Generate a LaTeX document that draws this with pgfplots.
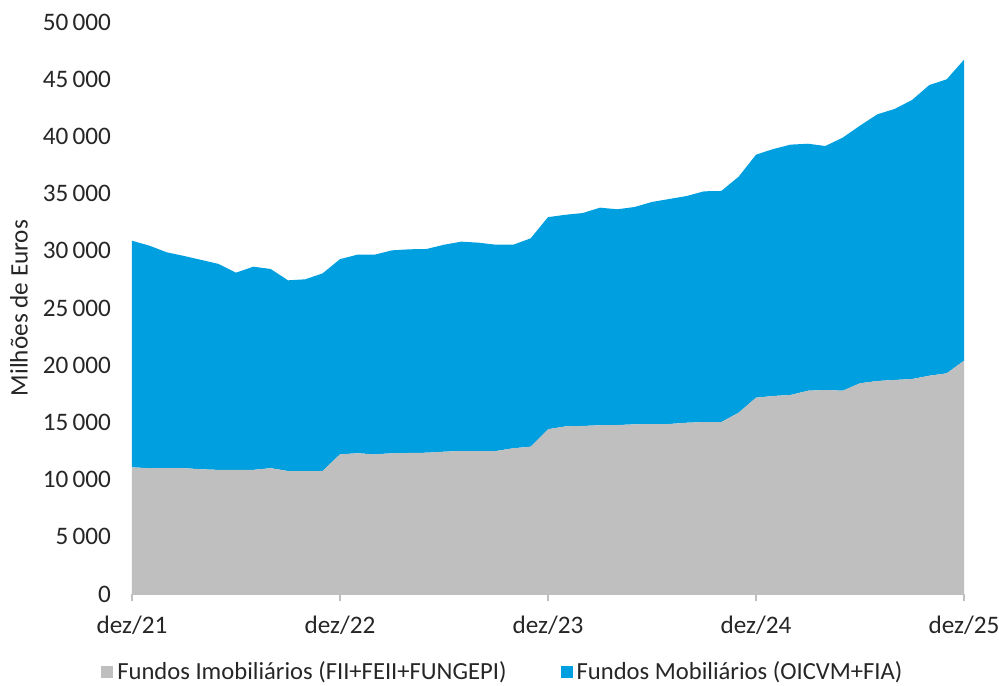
\documentclass[border=0pt]{standalone}
\usepackage{fontspec}
\setmainfont{Carlito}
\usepackage{pgfplots}
\pgfplotsset{compat=1.18}

\definecolor{mobblue}{RGB}{0,159,223}
\definecolor{imogray}{RGB}{191,191,191}
\definecolor{axisgray}{RGB}{191,191,191}

% month index (0 = dez/21), values in millions of euros
\begin{document}
\begin{tikzpicture}[x=1pt,y=1pt]
  \useasboundingbox (-66,-45.5) rectangle (433.5,297);
  \begin{axis}[
    at={(0,0)}, anchor=south west,
    scale only axis,
    width=416pt, height=286pt,
    stack plots=y,
    area style,
    xmin=0, xmax=48,
    ymin=0, ymax=50000,
    xtick={0,12,24,36,48},
    xticklabels={dez/21,dez/22,dez/23,dez/24,dez/25},
    ytick={0,5000,...,50000},
    axis x line*=bottom,
    axis y line*=left,
    y axis line style={draw=none},
    x axis line style={draw=axisgray, line width=0.8pt, -},
    xtick style={draw=axisgray, line width=0.8pt},
    tick align=outside,
    major tick length=3.5pt,
    font=\fontsize{12.6}{14}\selectfont,
    /pgf/number format/assume math mode=true,
    /pgf/number format/1000 sep={\,},
    scaled y ticks=false,
    ytick style={draw=none},
    yticklabel style={anchor=east, xshift=-3.5pt, text=black!85},
    xticklabel style={yshift=-4pt, text=black!85},
    ylabel={Milhões de Euros},
    ylabel style={at={(axis description cs:-0.136,0.5)}, anchor=center,
      text=black!85},
    legend columns=-1,
    legend style={at={(rel axis cs:0.447,0)}, anchor=center, yshift=-39pt,
      draw=none, fill=none, font=\fontsize{12.3}{14}\selectfont,
      text=black!85,
      /tikz/every even column/.append style={column sep=25pt}},
    legend image code/.code={
      \fill[#1] (0pt,-3pt) rectangle (6pt,3pt);
    },
  ]
    \addplot[fill=imogray, draw=none] coordinates {
      (0,11070) (1,11000) (2,11000) (3,11000) (4,10900) (5,10850)
      (6,10850) (7,10850) (8,11000) (9,10750) (10,10750) (11,10750)
      (12,12210) (13,12300) (14,12210) (15,12300) (16,12330) (17,12350)
      (18,12440) (19,12500) (20,12500) (21,12500) (22,12740) (23,12880)
      (24,14400) (25,14650) (26,14690) (27,14750) (28,14770) (29,14830)
      (30,14860) (31,14860) (32,14970) (33,15030) (34,15030) (35,15850)
      (36,17160) (37,17310) (38,17400) (39,17770) (40,17830) (41,17770)
      (42,18420) (43,18620) (44,18710) (45,18790) (46,19080) (47,19290)
      (48,20390)
    } \closedcycle;
    \addlegendentry{Fundos Imobiliários (FII+FEII+FUNGEPI)}
    \addplot[fill=mobblue, draw=none] coordinates {
      (0,19810) (1,19450) (2,18870) (3,18550) (4,18300) (5,18000)
      (6,17240) (7,17760) (8,17410) (9,16670) (10,16760) (11,17280)
      (12,17060) (13,17360) (14,17450) (15,17740) (16,17800) (17,17810)
      (18,18090) (19,18300) (20,18210) (21,18030) (22,17790) (23,18210)
      (24,18540) (25,18500) (26,18610) (27,19020) (28,18860) (29,19000)
      (30,19410) (31,19670) (32,19820) (33,20170) (34,20200) (35,20630)
      (36,21240) (37,21590) (38,21880) (39,21590) (40,21330) (41,22120)
      (42,22520) (43,23310) (44,23690) (45,24390) (46,25410) (47,25700)
      (48,26310)
    } \closedcycle;
    \addlegendentry{Fundos Mobiliários (OICVM+FIA)}
  \end{axis}
\end{tikzpicture}
\end{document}
